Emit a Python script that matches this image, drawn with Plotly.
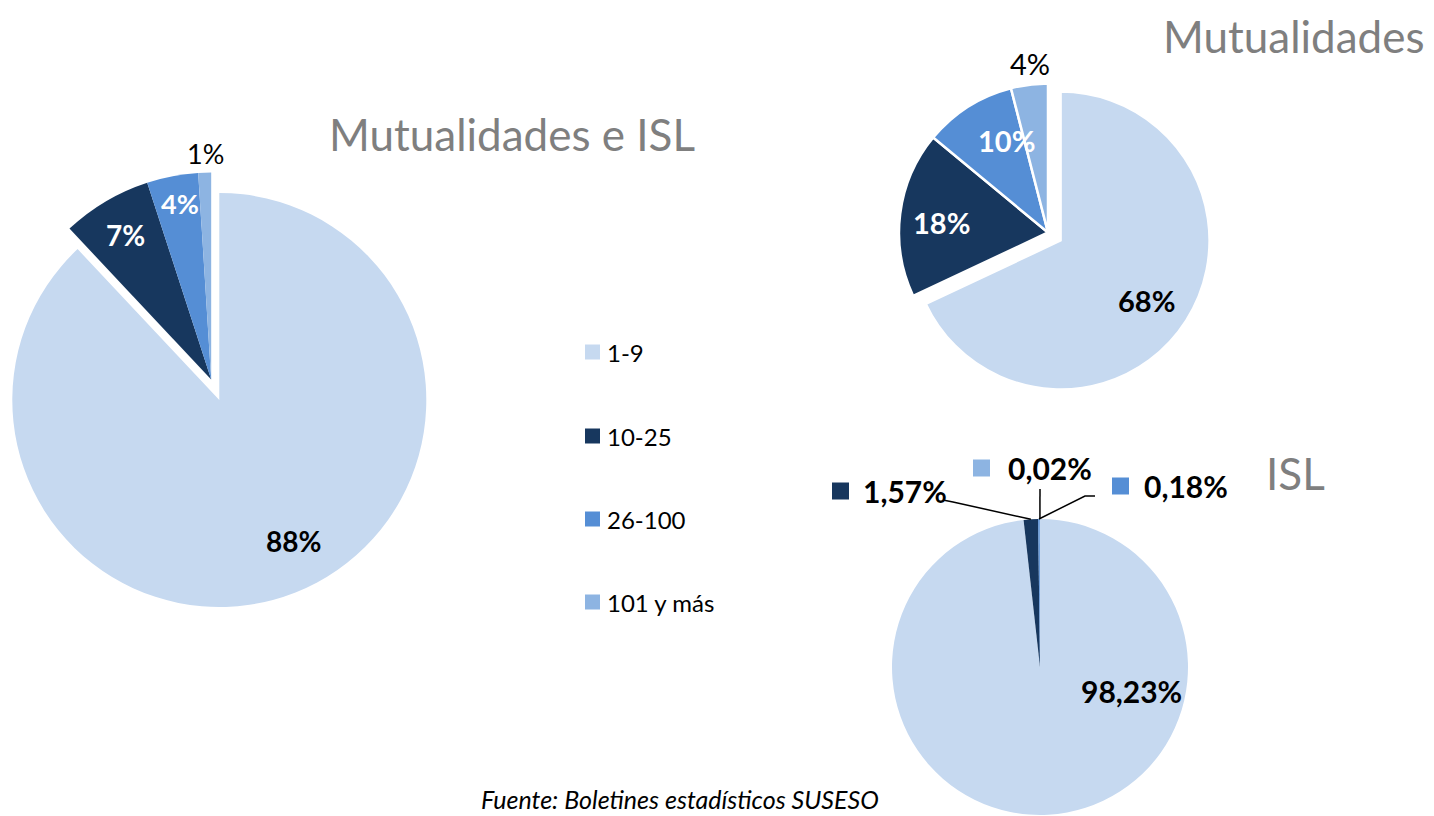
import math
import plotly.graph_objects as go

# ---------------- data ----------------
LABELS = ["1-9", "10-25", "26-100", "101 y más"]
COLORS = ["#C6D9F0", "#17375E", "#558ED5", "#8DB4E2"]
TOTAL_VALUES = [88, 7, 4, 1]              # Mutualidades e ISL (%)
MUTUAL_VALUES = [68, 18, 10, 4]           # Mutualidades (%)
ISL_VALUES = [98.23, 1.57, 0.18, 0.02]    # ISL (%)
TITLES = ["Mutualidades e ISL", "Mutualidades", "ISL"]
SOURCE = "Fuente: Boletines estadísticos SUSESO"

# ---------------- layout helpers ----------------
W, H = 1434, 816
FONT = "Lato, 'Open Sans', sans-serif"
TRANSPARENT = "rgba(0,0,0,0)"


def px(x):
    return x / W


def py(y):
    return 1 - y / H


def domain(cx, cy, half):
    return dict(x=[px(cx - half), px(cx + half)], y=[py(cy + half), py(cy - half)])


def fmt_int(v):
    return f"{v:.0f}%"


def fmt_dec(v):
    return f"{v:.2f}".replace(".", ",") + "%"


def slice_point(values, i, cx, cy, r):
    tot = sum(values)
    start = sum(values[:i]) / tot * 360
    mid = math.radians(start + values[i] / tot * 360 / 2)
    return cx + r * math.sin(mid), cy - r * math.cos(mid)


fig = go.Figure()

# ---- big pie "Mutualidades e ISL": 1-9 slice exploded ----
BIG_R = 207
BIG_C_MAIN = (219.3, 400.0)   # centre of the exploded slice
BIG_C_REST = (211.2, 379.5)   # centre of the remaining slices
fig.add_trace(go.Pie(
    labels=LABELS, values=TOTAL_VALUES, sort=False, direction="clockwise", rotation=0,
    marker=dict(colors=[COLORS[0]] + [TRANSPARENT] * 3, line=dict(width=0)),
    textinfo="none", hoverinfo="label+percent", showlegend=False,
    domain=domain(BIG_C_MAIN[0], BIG_C_MAIN[1], BIG_R),
))
fig.add_trace(go.Pie(
    labels=LABELS, values=TOTAL_VALUES, sort=False, direction="clockwise", rotation=0,
    marker=dict(colors=[TRANSPARENT] + COLORS[1:], line=dict(width=0)),
    textinfo="none", hoverinfo="label+percent", showlegend=False,
    domain=domain(BIG_C_REST[0], BIG_C_REST[1], BIG_R),
))

# ---- "Mutualidades" pie ----
MUT_R = 149
MUT_PULL = 0.1
fig.add_trace(go.Pie(
    labels=LABELS, values=MUTUAL_VALUES, sort=False, direction="clockwise", rotation=0,
    pull=[MUT_PULL, 0, 0, 0],
    marker=dict(colors=COLORS, line=dict(color="white", width=2.5)),
    textinfo="none", hoverinfo="label+percent", showlegend=False,
    domain=domain(1048, 232.5, MUT_R * (1 + MUT_PULL)),
))

# ---- "ISL" pie ----
ISL_C = (1040, 667)
ISL_R = 148
fig.add_trace(go.Pie(
    labels=LABELS, values=ISL_VALUES, sort=False, direction="clockwise", rotation=0,
    marker=dict(colors=COLORS, line=dict(width=0)),
    textinfo="none", hoverinfo="label+percent", showlegend=False,
    domain=domain(ISL_C[0], ISL_C[1], ISL_R),
))

annotations = []
shapes = []


def label(text, x, y, size, color="black", bold=True, xanchor="center"):
    t = f"<b>{text}</b>" if bold else text
    annotations.append(dict(
        text=t, x=px(x), y=py(y), xref="paper", yref="paper", showarrow=False,
        xanchor=xanchor, yanchor="middle", font=dict(family=FONT, size=size, color=color)))


# data labels – big pie
label(fmt_int(TOTAL_VALUES[0]), 293, 541, 28)
label(fmt_int(TOTAL_VALUES[1]), 126, 235, 28, "white")
label(fmt_int(TOTAL_VALUES[2]), 180, 203, 27, "white")
label(fmt_int(TOTAL_VALUES[3]), 205, 153, 27, bold=False)

# data labels – Mutualidades
label(fmt_int(MUTUAL_VALUES[0]), 1146, 300, 29)
label(fmt_int(MUTUAL_VALUES[1]), 941, 223, 29, "white")
label(fmt_int(MUTUAL_VALUES[2]), 1006, 140, 29, "white")
label(fmt_int(MUTUAL_VALUES[3]), 1030, 64, 29, bold=False)

# data labels – ISL
label(fmt_dec(ISL_VALUES[0]), 1131, 691, 30)
ISL_LABELS = [  # (slice index, text left x, text centre y, key square left x)
    (1, 861, 491, 832),
    (3, 1006, 468, 973),
    (2, 1142, 486, 1112),
]
for idx, tx, ty, sx in ISL_LABELS:
    label(fmt_dec(ISL_VALUES[idx]), tx, ty, 30, xanchor="left")
    shapes.append(dict(type="rect", xref="paper", yref="paper",
                       x0=px(sx), x1=px(sx + 17), y0=py(ty + 8.5), y1=py(ty - 8.5),
                       fillcolor=COLORS[idx], line=dict(width=0)))

# leader lines for ISL small slices
p157 = slice_point(ISL_VALUES, 1, ISL_C[0], ISL_C[1], ISL_R)
p018 = slice_point(ISL_VALUES, 2, ISL_C[0], ISL_C[1], ISL_R)
p002 = slice_point(ISL_VALUES, 3, ISL_C[0], ISL_C[1], ISL_R)
leaders = [
    [(943, 500), (953, 502), p157],
    [(1040, 489), p002],
    [(1095, 496), (1085, 496), p018],
]
for pts in leaders:
    path = "M " + " L ".join(f"{px(x):.5f},{py(y):.5f}" for x, y in pts)
    shapes.append(dict(type="path", xref="paper", yref="paper", path=path,
                       line=dict(color="black", width=1.5)))

# legend (manual, evenly spaced like the original)
LEG_Y = [352, 436, 519, 602]
for name, col, ly in zip(LABELS, COLORS, LEG_Y):
    shapes.append(dict(type="rect", xref="paper", yref="paper",
                       x0=px(585), x1=px(600), y0=py(ly + 7.5), y1=py(ly - 7.5),
                       fillcolor=col, line=dict(width=0)))
    annotations.append(dict(text=name, x=px(605), y=py(ly), xref="paper", yref="paper",
                            showarrow=False, xanchor="left", yanchor="middle",
                            font=dict(family=FONT, size=24, color="black")))

# titles
TITLE_POS = [(512, 134), (1294, 36), (1295, 473)]
for t, (tx, ty) in zip(TITLES, TITLE_POS):
    annotations.append(dict(text=t, x=px(tx), y=py(ty), xref="paper", yref="paper",
                            showarrow=False, xanchor="center", yanchor="middle",
                            font=dict(family=FONT, size=44, color="#7F7F7F")))

# source
annotations.append(dict(text=f"<i>{SOURCE}</i>", x=px(680), y=0, xref="paper", yref="paper",
                        showarrow=False, xanchor="center", yanchor="bottom",
                        font=dict(family=FONT, size=25, color="black")))

fig.update_layout(
    width=W, height=H, margin=dict(l=0, r=0, t=0, b=0),
    paper_bgcolor="white", plot_bgcolor="white",
    showlegend=False, annotations=annotations, shapes=shapes,
    font=dict(family=FONT),
)

fig.write_html("out.html", config={"displayModeBar": False},
               post_script="document.body.style.margin='0';")
